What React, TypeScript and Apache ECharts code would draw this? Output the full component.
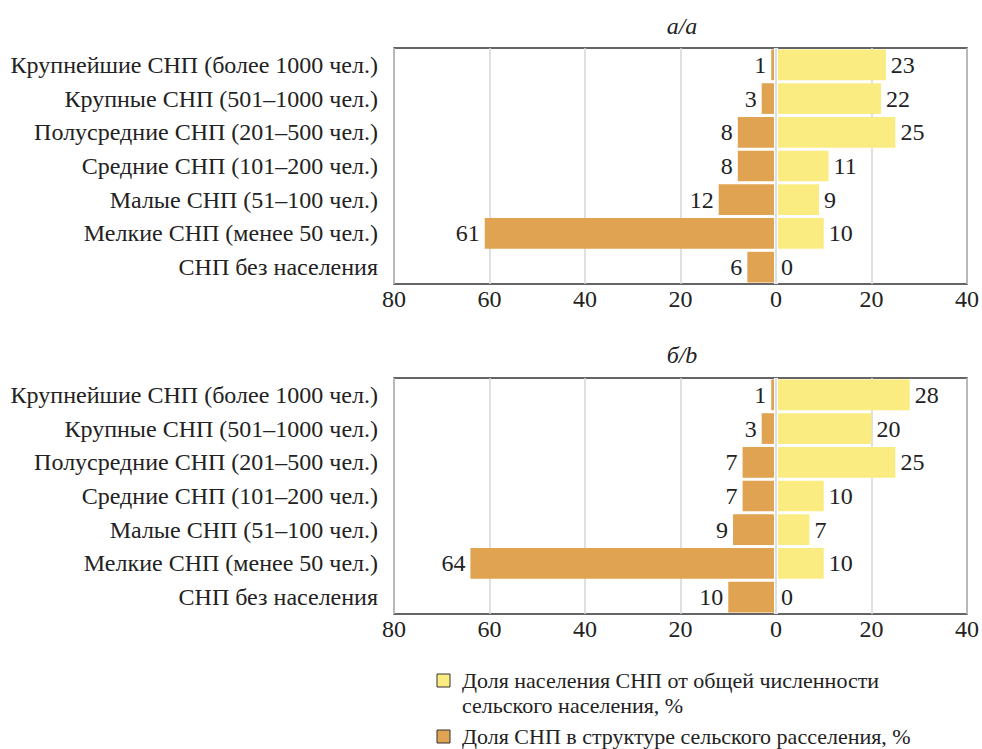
import React, { useEffect, useRef } from "react";
import * as echarts from "echarts";

const categories = [
  "Крупнейшие СНП (более 1000 чел.)",
  "Крупные СНП (501–1000 чел.)",
  "Полусредние СНП (201–500 чел.)",
  "Средние СНП (101–200 чел.)",
  "Малые СНП (51–100 чел.)",
  "Мелкие СНП (менее 50 чел.)",
  "СНП без населения",
];

// Panel а/a
const shareSettlementsA = [1, 3, 8, 8, 12, 61, 6];
const sharePopulationA = [23, 22, 25, 11, 9, 10, 0];
// Panel б/b
const shareSettlementsB = [1, 3, 7, 7, 9, 64, 10];
const sharePopulationB = [28, 20, 25, 10, 7, 10, 0];

const panelTitles = ["а/a", "б/b"];
const legendPopulation = ["Доля населения СНП от общей численности", "сельского населения, %"];
const legendSettlements = "Доля СНП в структуре сельского расселения, %";

const YELLOW = "#FAEC80";
const ORANGE = "#E0A351";
const TEXT = "#222";
const FONT = "Liberation Serif";
const FS = 24;
const LEGEND_FS = 22;

export default function App() {
  const ref = useRef<HTMLDivElement>(null);
  useEffect(() => {
    if (!ref.current) return;
    const chart = echarts.init(ref.current, undefined, { renderer: "svg" });
    const grids = [
      { left: 394, right: 12, top: 48, height: 236 },
      { left: 394, right: 12, top: 378, height: 236 },
    ];
    const xAxes = grids.map((_, i) => ({
      type: "value",
      gridIndex: i,
      min: -80,
      max: 40,
      interval: 20,
      axisLine: { show: false },
      axisTick: { show: false },
      axisLabel: {
        formatter: (v: number) => String(Math.abs(v)),
        fontSize: FS,
        color: TEXT,
        fontFamily: FONT,
        margin: 3,
      },
      splitLine: { show: true, lineStyle: { color: "#d6d6d6", width: 1.5 } },
    }));
    const yAxes = grids.map((_, i) => ({
      type: "category",
      gridIndex: i,
      inverse: true,
      data: categories,
      axisLine: { show: false },
      axisTick: { show: false },
      axisLabel: { fontSize: FS, color: TEXT, fontFamily: FONT, margin: 16 },
    }));
    const labelStyle = { fontSize: FS, color: TEXT, fontFamily: FONT, distance: 5 };
    const makeSeries = (i: number, settlements: number[], population: number[]) => [
      {
        type: "bar",
        name: legendSettlements,
        xAxisIndex: i,
        yAxisIndex: i,
        barGap: "-100%",
        barCategoryGap: "9%",
        data: settlements.map((v) => -v),
        itemStyle: { color: ORANGE },
        label: {
          show: true,
          position: "left",
          formatter: (p: any) => String(Math.abs(p.value)),
          ...labelStyle,
        },
      },
      {
        type: "bar",
        name: legendPopulation.join(" "),
        xAxisIndex: i,
        yAxisIndex: i,
        barGap: "-100%",
        barCategoryGap: "9%",
        data: population,
        itemStyle: { color: YELLOW },
        label: { show: true, position: "right", ...labelStyle },
        markLine: {
          silent: true,
          symbol: "none",
          label: { show: false },
          data: [
            { xAxis: 0, lineStyle: { color: "#ffffff", width: 4, type: "solid" } },
            { xAxis: 0, lineStyle: { color: "#d6d6d6", width: 1.5, type: "solid" } },
          ],
        },
      },
    ];
    const titleStyle = (text: string) => ({
      text,
      fontSize: 24,
      fontStyle: "italic",
      fontFamily: FONT,
      fill: TEXT,
      align: "center",
      verticalAlign: "middle",
    });
    const legendText = (text: string, y: number) => ({
      type: "text",
      x: 462,
      y,
      style: {
        text,
        fontSize: LEGEND_FS,
        lineHeight: 20,
        fontFamily: FONT,
        fill: TEXT,
        align: "left",
        verticalAlign: "middle",
      },
    });
    const option: any = {
      animation: false,
      backgroundColor: "#ffffff",
      textStyle: { fontFamily: FONT },
      grid: grids.map((g) => ({
        ...g,
        show: true,
        borderColor: "#333",
        borderWidth: 1.5,
        backgroundColor: "transparent",
      })),
      xAxis: xAxes,
      yAxis: yAxes,
      series: [
        ...makeSeries(0, shareSettlementsA, sharePopulationA),
        ...makeSeries(1, shareSettlementsB, sharePopulationB),
      ],
      graphic: [
        { type: "text", x: 682, y: 26, style: titleStyle(panelTitles[0]) },
        { type: "text", x: 682, y: 355, style: titleStyle(panelTitles[1]) },
        {
          type: "rect",
          shape: { x: 437, y: 674, width: 13, height: 13 },
          style: { fill: YELLOW, stroke: "#333", lineWidth: 1 },
        },
        legendText(legendPopulation[0], 680),
        legendText(legendPopulation[1], 705),
        {
          type: "rect",
          shape: { x: 437, y: 730, width: 13, height: 13 },
          style: { fill: ORANGE, stroke: "#333", lineWidth: 1 },
        },
        legendText(legendSettlements, 736),
      ],
    };
    chart.setOption(option);
    return () => chart.dispose();
  }, []);
  return (
    <div
      ref={ref}
      style={{ position: "fixed", left: 0, top: 0, width: 982, height: 749 }}
    />
  );
}
